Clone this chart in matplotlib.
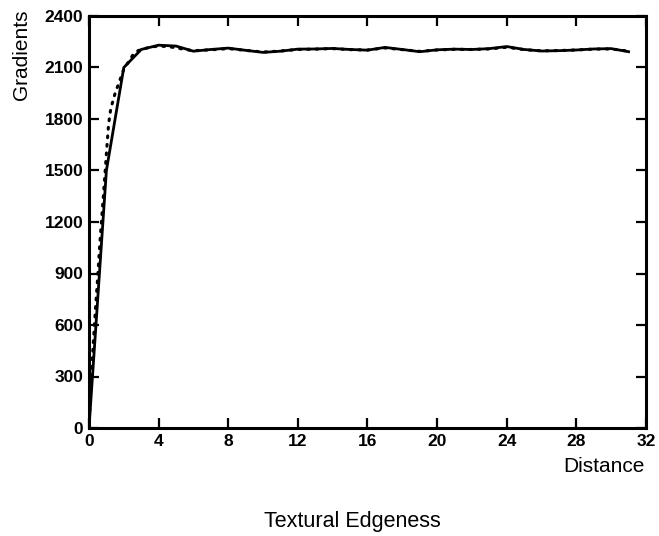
import matplotlib
matplotlib.use("Agg")
import matplotlib.pyplot as plt

plt.rcParams['font.family'] = ['Liberation Sans', 'DejaVu Sans']

# Solid series: measured gradients at integer distances
solid_x = list(range(0, 32))
solid_y = [0, 1500, 2100, 2205, 2230, 2225, 2195, 2205, 2213, 2200,
           2188, 2195, 2207, 2208, 2211, 2205, 2201, 2217, 2205, 2192,
           2203, 2207, 2205, 2210, 2222, 2205, 2196, 2198, 2202, 2208,
           2210, 2192]

# Dotted series: fitted curve
dot_x = [0, 0.125, 0.25, 0.375, 0.5, 0.625, 0.75, 0.875, 1.0, 1.125, 1.25,
         1.5, 1.75, 2.0, 2.25, 2.5, 2.75, 3.0, 3.5, 4, 4.5, 5, 5.5, 6, 7, 8,
         9, 10, 11, 12, 13, 14, 15, 16, 17, 18, 19, 20, 21, 22, 23, 24, 25,
         26, 27, 28, 29, 30, 31]
dot_y = [0, 300, 500, 700, 880, 1080, 1250, 1420, 1600, 1770, 1860,
         1950, 2020, 2090, 2130, 2170, 2195, 2205, 2218, 2225, 2222, 2215,
         2205, 2198, 2203, 2210, 2200, 2190, 2196, 2205, 2207, 2210, 2204,
         2202, 2214, 2204, 2194, 2202, 2206, 2205, 2208, 2218, 2204, 2197,
         2199, 2202, 2207, 2208, 2195]

x_ticks = [0, 4, 8, 12, 16, 20, 24, 28, 32]
y_ticks = [0, 300, 600, 900, 1200, 1500, 1800, 2100, 2400]

fig = plt.figure(figsize=(6.59, 5.36), dpi=100)
ax = fig.add_axes([89/659, 1-428/536, (646-89)/659, (428-16)/536])

ax.plot(dot_x, dot_y, color='black', linestyle=(0, (0.6, 2.2)), linewidth=2.2,
        dash_capstyle='round')
ax.plot(solid_x, solid_y, color='black', linewidth=2.0)

ax.set_xlim(0, 32)
ax.set_ylim(0, 2400)
ax.set_xticks(x_ticks)
ax.set_yticks(y_ticks)
for s in ax.spines.values():
    s.set_linewidth(2.2)
ax.tick_params(direction='in', top=True, right=True, length=7, width=1.6,
               labelsize=12.5, pad=4)
for lab in ax.get_xticklabels() + ax.get_yticklabels():
    lab.set_fontweight('bold')

fig.text(22/659, 1-10/536, 'Gradients', rotation=90,
         ha='center', va='top', fontsize=15)
fig.text(645/659, 1-467/536, 'Distance', ha='right', va='center', fontsize=15)
fig.text(352/659, 1-521/536, 'Textural Edgeness', ha='center', va='center',
         fontsize=15.5)

fig.savefig('out.png', dpi=100)
